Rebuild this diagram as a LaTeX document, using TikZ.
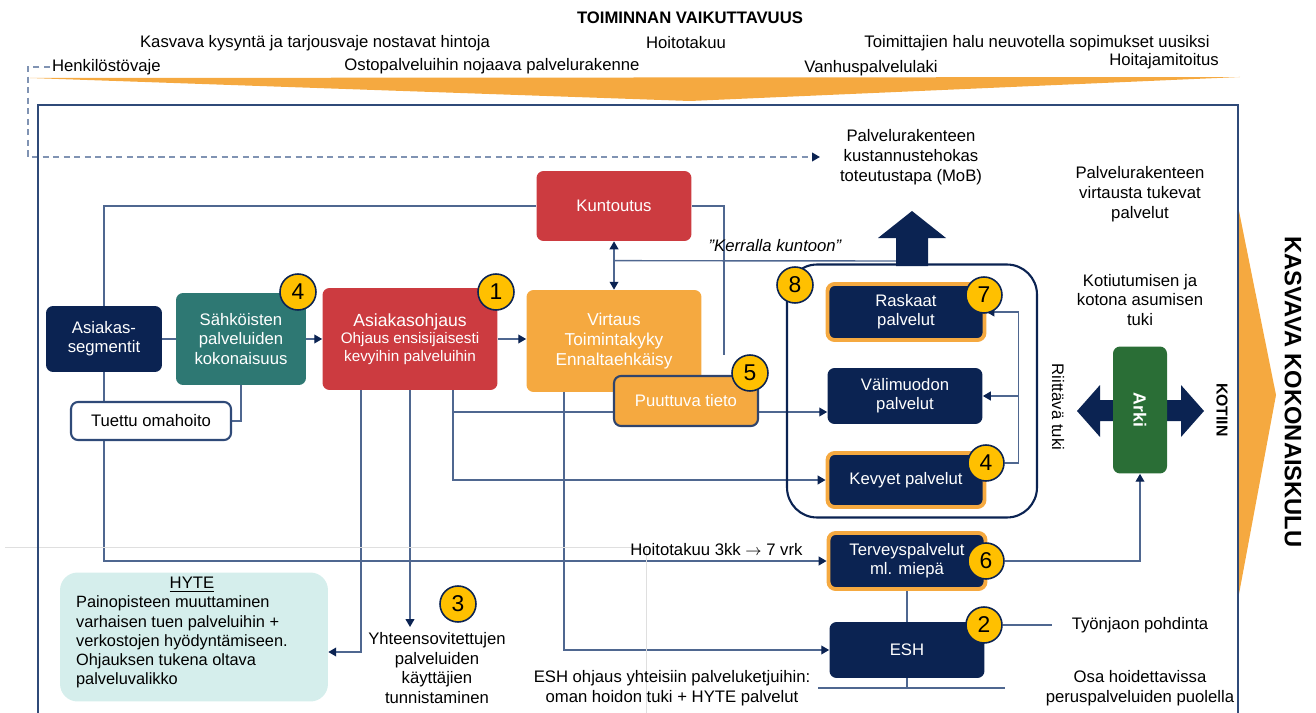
\documentclass[tikz,border=0pt]{standalone}
\usepackage{fontspec}
\setmainfont{Liberation Sans}
\usetikzlibrary{arrows.meta,calc,backgrounds}

\definecolor{navyC}{HTML}{0B2352}
\definecolor{tealC}{HTML}{2E7873}
\definecolor{redC}{HTML}{CC3B40}
\definecolor{orangeC}{HTML}{F5A940}
\definecolor{greenC}{HTML}{2A6E36}
\definecolor{hyteC}{HTML}{D5EEEC}
\definecolor{lineC}{HTML}{4F6790}
\definecolor{frameC}{HTML}{2F4A78}
\definecolor{badgeC}{HTML}{FFC000}
\definecolor{dashC}{HTML}{8093B3}

\tikzset{
  box/.style={rounded corners=4pt, align=center, text=white, inner sep=2pt,
    font=\fontsize{9.5}{11}\selectfont},
  navybox/.style={box, fill=navyC},
  hilite/.style={draw=orangeC, line width=2.2pt},
  badge/.style={circle, fill=badgeC, draw=navyC, line width=0.9pt,
    minimum size=0.72cm, inner sep=0pt, font=\fontsize{13}{13}\selectfont},
  conn/.style={draw=lineC, line width=0.8pt},
  lbl/.style={align=center, font=\fontsize{9.5}{11.3}\selectfont, inner sep=1pt},
  toptxt/.style={font=\fontsize{9.5}{11}\selectfont, inner sep=1pt},
}

\begin{document}
\begin{tikzpicture}[x=0.02cm, y=-0.02cm, >={Triangle[length=4.5pt,width=5pt,color=navyC]}]
  \useasboundingbox (0,0) rectangle (1316,713);

  % faint guide lines of the slide
  \draw[gray!25, line width=0.4pt] (5,547) -- (646,547) -- (646,713);

  % top band and right chevron
  \fill[orangeC] (30,78) -- (1240,77) -- (690,101) -- cycle;
  \fill[orangeC] (1239,211) -- (1276,395) -- (1239,594) -- cycle;
  \draw[frameC, line width=1.2pt] (38,105) rectangle (1238,730);

  % headings
  \node[font=\bfseries\fontsize{9.5}{11}\selectfont] (title) at (690,18) {TOIMINNAN VAIKUTTAVUUS};
  \node[toptxt] (kysynta) at (315,43) {Kasvava kysyntä ja tarjousvaje nostavat hintoja};
  \node[toptxt] (takuu) at (686,43) {Hoitotakuu};
  \node[toptxt] (toimitt) at (1037,43) {Toimittajien halu neuvotella sopimukset uusiksi};
  \node[toptxt, anchor=west] (henk) at (50,67) {Henkilöstövaje};
  \node[toptxt] (osto) at (492,66) {Ostopalveluihin nojaava palvelurakenne};
  \node[toptxt] (vanhus) at (871,68) {Vanhuspalvelulaki};
  \node[toptxt] (mitoitus) at (1164,61) {Hoitajamitoitus};

  \node[lbl] (mob) at (911,157) {Palvelurakenteen\\kustannustehokas\\toteutustapa (MoB)};
  \node[lbl] (tukevat) at (1140,194) {Palvelurakenteen\\virtausta tukevat\\palvelut};
  \node[lbl] (kotiutus) at (1140,300) {Kotiutumisen ja\\kotona asumisen\\tuki};

  % big arrows
  \fill[navyC] (896,266) -- (896,238) -- (878,238) -- (912,211) -- (946,238) -- (928,238) -- (928,266) -- cycle;
  \coordinate (upL) at (896,261);
  \fill[navyC] (1077,411) -- (1100,385) -- (1100,400) -- (1181,400) -- (1181,385) -- (1204,411)
    -- (1181,437) -- (1181,421) -- (1100,421) -- (1100,437) -- cycle;

  % left side
  \node[navybox, minimum width=2.32cm, minimum height=1.32cm] (seg) at (104,339) {Asiakas-\\segmentit};
  \node[box, fill=tealC, minimum width=2.6cm, minimum height=1.84cm] (sahk) at (241,339) {Sähköisten\\palveluiden\\kokonaisuus};
  \node[box, fill=redC, minimum width=3.5cm, minimum height=2.04cm] (ohj) at (410,339)
    {{\fontsize{10}{12}\selectfont Asiakasohjaus}\\[-1pt]{\fontsize{8.7}{10}\selectfont Ohjaus ensisijaisesti}\\[-1pt]{\fontsize{8.7}{10}\selectfont kevyihin palveluihin}};
  \node[box, fill=orangeC, minimum width=3.5cm, minimum height=2.04cm, font=\fontsize{9.8}{11.5}\selectfont] (virt) at (614,341) {Virtaus\\Toimintakyky\\Ennaltaehkäisy};
  \node[box, fill=redC, minimum width=3.1cm, minimum height=1.4cm] (kunt) at (614,206) {Kuntoutus};
  \node[box, fill=orangeC, draw=navyC!85, line width=1.2pt, minimum width=2.88cm, minimum height=1cm] (puut) at (686,401) {Puuttuva tieto};
  \node[box, fill=white, draw=frameC, line width=1.2pt, text=black, minimum width=3.2cm, minimum height=0.76cm] (tuettu) at (151,421) {Tuettu omahoito};
  \coordinate (kend) at (724,355);

  \node[fill=hyteC, rounded corners=10pt, minimum width=5.36cm, minimum height=2.58cm] (hyte) at (194,637) {};
  \node[lbl] (hytehead) at (192,585) {\underline{HYTE}};
  \node[lbl, align=left, anchor=north west, font=\fontsize{9.3}{10.9}\selectfont] (hytebody) at (74,594)
    {Painopisteen muuttaminen\\varhaisen tuen palveluihin +\\verkostojen hyödyntämiseen.\\Ohjauksen tukena oltava\\palveluvalikko};
  \node[lbl] (yht) at (437,668) {Yhteensovitettujen\\palveluiden\\käyttäjien\\tunnistaminen};
  \node[lbl] (eshtxt) at (672,688) {ESH ohjaus yhteisiin palveluketjuihin:\\oman hoidon tuki + HYTE palvelut};

  % service group
  \node[draw=navyC, line width=1.2pt, rounded corners=0.6cm, minimum width=5cm, minimum height=5.06cm] (grp) at (912,391) {};
  \node[navybox, hilite, minimum width=3.14cm, minimum height=1.12cm] (rask) at (906,312) {Raskaat\\palvelut};
  \node[navybox, minimum width=3.1cm, minimum height=1.12cm] (vali) at (905,396) {Välimuodon\\palvelut};
  \node[navybox, hilite, minimum width=3.14cm, minimum height=1.08cm] (kevy) at (906,480) {Kevyet palvelut};
  \node[navybox, hilite, minimum width=3.14cm, minimum height=1.12cm] (terv) at (907,561) {Terveyspalvelut\\ml. miepä};
  \node[navybox, minimum width=3.1cm, minimum height=1.12cm] (esh) at (907,650) {ESH};
  \coordinate (barL) at (818,688);
  \coordinate (barR) at (1005,688);

  \node[box, fill=greenC, minimum width=1.08cm, minimum height=2.54cm, font=\bfseries\fontsize{10}{12}\selectfont] (arki) at (1140,410) {\rotatebox{-90}{Arki}};
  \node[lbl, rotate=-90] (riitt) at (1058,407) {Riittävä tuki};
  \node[font=\bfseries\fontsize{9}{11}\selectfont, rotate=-90] (kotiin) at (1222,410) {KOTIIN};
  \node[font=\bfseries\fontsize{13.5}{16}\selectfont, rotate=-90] (kokonais) at (1293,392) {KASVAVA KOKONAISKULU};
  \node[lbl] (tyon) at (1140,625) {Työnjaon pohdinta};
  \node[lbl] (osa) at (1140,688) {Osa hoidettavissa\\peruspalveluiden puolella};
  \node[font=\itshape\fontsize{9.5}{11}\selectfont] (kerralla) at (775,246) {”Kerralla kuntoon”};
  \node[lbl, anchor=south east] (takuulbl) at ($(terv.west)+(-22,-3)$) {Hoitotakuu 3kk $\rightarrow$ 7 vrk};

  % numbered badges
  \node[badge] (b4a) at (298,292) {4};
  \node[badge] (b1) at (496,292) {1};
  \node[badge] (b5) at (750,373) {5};
  \node[badge] (b8) at (795,285) {8};
  \node[badge] (b7) at (984,295) {7};
  \node[badge] (b4b) at (986,463) {4};
  \node[badge] (b6) at (986,561) {6};
  \node[badge] (b2) at (984,625) {2};
  \node[badge] (b3) at (458,604) {3};

  % connectors
  \begin{scope}[on background layer]
    \draw[dashC, line width=0.9pt, dash pattern=on 3.5pt off 2.5pt, ->] (henk.west) -- ++(-22,0) |- ($(mob.west)+(-18,0)$);
    \draw[conn] (seg.north) |- (kunt.west);
    \draw[conn] (seg.east) -- (sahk.west);
    \draw[conn,->] (sahk.east) -- (ohj.west);
    \draw[conn,->] (ohj.east) -- (ohj.east -| virt.west);
    \draw[conn] (sahk.south) |- (tuettu.east);
    \draw[conn] (seg.south) -- (seg.south |- tuettu.north);
    \draw[conn,->] (tuettu.south -| seg.south) |- (terv.west);
    \draw[conn,<->] (kunt.south) -- (virt.north);
    \draw[conn] ($(kunt.south)!0.4!(virt.north)$) -- (upL);
    \draw[conn] (kunt.east) -| (kend);
    \draw[conn,->] ($(ohj.south)+(-49,0)$) |- ($(hyte.east)+(0,15)$);
    \draw[conn,->] (ohj.south) -- ($(ohj.south |- yht.north)+(0,-3)$);
    \draw[conn,->] ($(ohj.south)+(43,0)$) |- ($(vali.west)+(0,16)$);
    \draw[conn,->] ($(ohj.south)+(43,0)$) |- (kevy.west);
    \draw[conn,->] ($(virt.south)+(-50,0)$) |- (esh.west);
    \draw[conn,->] (b4b.east) -- ++(14,0) |- (rask.east);
    \draw[conn,->] ($(b4b.east)+(14,0)$) |- (vali.east);
    \draw[conn,->] (b6.east) -| (arki.south);
    \draw[conn] (b2.east) -- ($(tyon.west)+(-18,0)$);
    \draw[conn] (terv.south) -- (esh.north);
    \draw[conn] (esh.south) -- (esh.south |- barL);
    \draw[conn] (barL) -- (barR);
  \end{scope}
\end{tikzpicture}
\end{document}
